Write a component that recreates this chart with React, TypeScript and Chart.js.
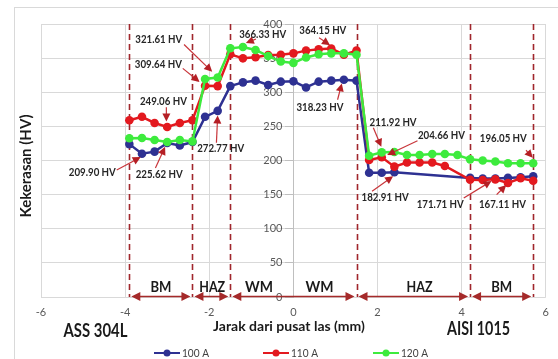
import React, { useEffect, useRef } from 'react';
import { Chart, registerables } from 'chart.js';

Chart.register(...registerables);

// ---- data ----
const seriesNames = ['100 A', '110 A', '120 A'];
const seriesColors = ['#2E3192', '#E3191F', '#3DEB3D'];

const xs100 = [-3.9, -3.6, -3.3, -3.0, -2.7, -2.4, -2.1, -1.8, -1.5, -1.2, -0.9, -0.6, -0.3, 0, 0.3, 0.6, 0.9, 1.2, 1.5, 1.8, 2.1, 2.4, 4.2, 4.5, 4.8, 5.1, 5.4, 5.7];
const hv100 = [224, 209.9, 213, 225.62, 222, 227, 264, 272.77, 309, 314.5, 317, 310.6, 315.5, 316, 307, 315.5, 317, 318.23, 317, 182, 182, 182.91, 174.5, 173.5, 173.5, 174.5, 175.5, 177];

const xs110 = [-3.9, -3.6, -3.3, -3.0, -2.7, -2.4, -2.1, -1.8, -1.5, -1.2, -0.9, -0.6, -0.3, 0, 0.3, 0.6, 0.9, 1.2, 1.5, 1.8, 2.1, 2.4, 2.7, 3.0, 3.3, 3.6, 4.2, 4.5, 4.8, 5.1, 5.4, 5.7];
const hv110 = [259, 264, 255, 249.06, 255, 259, 309.64, 309, 355.6, 349.7, 351.2, 354.6, 355, 357, 361, 363, 364.15, 355, 361, 200.7, 204.66, 191, 197, 197, 197, 192, 171.71, 171.4, 172.4, 167.11, 173.9, 170.4];

const xs120 = [-3.9, -3.6, -3.3, -3.0, -2.7, -2.4, -2.1, -1.8, -1.5, -1.2, -0.9, -0.6, -0.3, 0, 0.3, 0.6, 0.9, 1.2, 1.5, 1.8, 2.1, 2.4, 2.7, 3.0, 3.3, 3.6, 3.9, 4.2, 4.5, 4.8, 5.1, 5.4, 5.7];
const hv120 = [232.5, 233, 230, 227, 230, 228, 319.5, 321.61, 364.4, 366.33, 362, 353, 345, 343, 351, 355.6, 357, 357, 355, 207, 211.92, 212.5, 208, 208, 209.5, 209.5, 208, 201.7, 200, 198.5, 196, 196, 196.05];

const xMin = -6;
const xMax = 6;
const xStep = 2;
const yMin = 0;
const yMax = 400;
const yStep = 50;

const zoneBounds = [-3.9, -2.4, -1.5, 1.5, 4.2, 5.7];
const zoneArrows = [[-3.9, -2.4], [-2.4, -1.5], [-1.5, 1.5], [1.5, 4.2], [4.2, 5.7]];
const zoneLabels = ['BM', 'HAZ', 'WM', 'WM', 'HAZ', 'BM'];
const zoneLabelX = [-3.15, -1.93, -0.82, 0.62, 3.0, 4.95];
const zoneLabelY = 15;

const annText = ['321.61 HV', '309.64 HV', '249.06 HV', '272.77 HV', '209.90 HV', '225.62 HV', '366.33 HV', '364.15 HV', '318.23 HV', '211.92 HV', '204.66 HV', '196.05 HV', '182.91 HV', '171.71 HV', '167.11 HV'];
const annLabelX = [-3.2, -3.21, -3.09, -1.73, -4.78, -3.19, -0.73, 0.7, 0.63, 2.37, 3.52, 4.99, 2.18, 3.49, 4.97];
const annLabelY = [378, 341, 287, 217, 183, 180, 385, 390, 278, 256, 236, 233, 146, 135, 136];
const annTailX = [-2.6, -2.63, -3.02, -1.83, -4.2, -3.28, -0.89, 0.61, 1.05, 1.9, 2.95, 5.53, 1.87, 4.05, 4.83];
const annTailY = [370, 335, 278, 226, 186, 189, 378, 380, 289, 248, 229, 215, 155, 145, 150];
const annHeadX = [-1.93, -2.23, -3.02, -1.8, -3.63, -3.05, -1.13, 0.87, 1.15, 2.09, 2.23, 5.69, 2.37, 4.71, 5.06];
const annHeadY = [330, 315, 257, 266, 205, 220, 372, 369, 313, 220, 208, 204, 177, 170, 164];

const yTitle = 'Kekerasan (HV)';
const xTitle = 'Jarak dari pusat las (mm)';
const leftMaterial = 'ASS 304L';
const rightMaterial = 'AISI 1015';

const FONT = 'Lato, "Open Sans", "DejaVu Sans", sans-serif';

function drawText(ctx: CanvasRenderingContext2D, s: string, x: number, y: number, font: string, color: string, maxW?: number, align: CanvasTextAlign = 'center') {
  ctx.save();
  ctx.font = font;
  ctx.fillStyle = color;
  ctx.textBaseline = 'middle';
  ctx.textAlign = align;
  const w = ctx.measureText(s).width;
  ctx.translate(x, y);
  if (maxW && w > maxW) ctx.scale(maxW / w, 1);
  ctx.fillText(s, 0, 0);
  ctx.restore();
}

function arrowHead(ctx: CanvasRenderingContext2D, x1: number, y1: number, x2: number, y2: number, len: number, half: number) {
  const a = Math.atan2(y2 - y1, x2 - x1);
  const c = Math.cos(a);
  const s = Math.sin(a);
  ctx.beginPath();
  ctx.moveTo(x2, y2);
  ctx.lineTo(x2 - len * c + half * s, y2 - len * s - half * c);
  ctx.lineTo(x2 - len * c - half * s, y2 - len * s + half * c);
  ctx.closePath();
  ctx.fill();
}

const overlay = {
  id: 'overlay',
  beforeDraw(chart: any) {
    const ctx = chart.ctx as CanvasRenderingContext2D;
    ctx.save();
    ctx.strokeStyle = '#D9D9D9';
    ctx.lineWidth = 1;
    ctx.strokeRect(14.5, 7.5, 700, 500);
    ctx.restore();
  },
  beforeDatasetsDraw(chart: any) {
    const ctx = chart.ctx as CanvasRenderingContext2D;
    const xs = chart.scales.x;
    const ys = chart.scales.y;
    // y tick labels, placed left of the y axis at x = 0
    const axisX = xs.getPixelForValue(0);
    ys.ticks.forEach((t: any) => {
      drawText(ctx, String(t.label), axisX - 11, ys.getPixelForValue(t.value), '11px ' + FONT, '#595959', undefined, 'right');
    });
    ctx.save();
    ctx.strokeStyle = '#A0262C';
    ctx.lineWidth = 1.6;
    ctx.setLineDash([6, 4]);
    zoneBounds.forEach((b) => {
      const px = Math.round(xs.getPixelForValue(b)) + 0.5;
      ctx.beginPath();
      ctx.moveTo(px, ys.getPixelForValue(yMax));
      ctx.lineTo(px, ys.getPixelForValue(yMin));
      ctx.stroke();
    });
    ctx.restore();
  },
  afterDatasetsDraw(chart: any) {
    const ctx = chart.ctx as CanvasRenderingContext2D;
    const xs = chart.scales.x;
    const ys = chart.scales.y;
    // zone arrows along the x axis
    ctx.save();
    ctx.strokeStyle = '#A52A2A';
    ctx.fillStyle = '#A52A2A';
    ctx.lineWidth = 1.5;
    const y0 = ys.getPixelForValue(0) - 0.5;
    zoneArrows.forEach(([a, b]) => {
      const pa = xs.getPixelForValue(a) + 2;
      const pb = xs.getPixelForValue(b) - 2;
      ctx.beginPath();
      ctx.moveTo(pa + 4, y0);
      ctx.lineTo(pb - 4, y0);
      ctx.stroke();
      arrowHead(ctx, pb - 20, y0, pb, y0, 9, 4.5);
      arrowHead(ctx, pa + 20, y0, pa, y0, 9, 4.5);
    });
    ctx.restore();
    zoneLabels.forEach((t, i) => {
      drawText(ctx, t, xs.getPixelForValue(zoneLabelX[i]), ys.getPixelForValue(zoneLabelY), 'bold 15px ' + FONT, '#1A1A1A', t === 'BM' ? 21 : t === 'HAZ' ? 26 : 28);
    });
    // annotations
    annText.forEach((t, i) => {
      const tx = xs.getPixelForValue(annTailX[i]);
      const ty = ys.getPixelForValue(annTailY[i]);
      const hx = xs.getPixelForValue(annHeadX[i]);
      const hy = ys.getPixelForValue(annHeadY[i]);
      ctx.save();
      ctx.strokeStyle = '#C8353A';
      ctx.fillStyle = '#B51F25';
      ctx.lineWidth = 1.2;
      const a = Math.atan2(hy - ty, hx - tx);
      ctx.beginPath();
      ctx.moveTo(tx, ty);
      ctx.lineTo(hx - 6 * Math.cos(a), hy - 6 * Math.sin(a));
      ctx.stroke();
      arrowHead(ctx, tx, ty, hx, hy, 8, 4);
      ctx.restore();
      drawText(ctx, t, xs.getPixelForValue(annLabelX[i]), ys.getPixelForValue(annLabelY[i]), 'bold 11px ' + FONT, '#262626', 47);
    });
  },
  afterDraw(chart: any) {
    const ctx = chart.ctx as CanvasRenderingContext2D;
    // y title
    ctx.save();
    ctx.translate(26, 166);
    ctx.rotate(-Math.PI / 2);
    drawText(ctx, yTitle, 0, 0, 'bold 15px ' + FONT, '#1A1A1A', 113);
    ctx.restore();
    drawText(ctx, xTitle, 289, 326, 'bold 14px ' + FONT, '#1A1A1A', 155);
    drawText(ctx, leftMaterial, 95.5, 331, 'bold 18px ' + FONT, '#1A1A1A', 64);
    drawText(ctx, rightMaterial, 478.5, 329, 'bold 18px ' + FONT, '#1A1A1A', 63);
    // legend
    const starts = [154, 263, 373];
    const ly = 353;
    chart.data.datasets.forEach((ds: any, i: number) => {
      const sx = starts[i];
      ctx.save();
      ctx.strokeStyle = ds.borderColor;
      ctx.fillStyle = ds.borderColor;
      ctx.lineWidth = 2;
      ctx.beginPath();
      ctx.moveTo(sx, ly);
      ctx.lineTo(sx + 26, ly);
      ctx.stroke();
      ctx.beginPath();
      ctx.arc(sx + 13, ly, 3.5, 0, Math.PI * 2);
      ctx.fill();
      ctx.restore();
      drawText(ctx, ds.label, sx + 28, ly, '11px ' + FONT, '#404040', 27, 'left');
    });
  },
};

export default function App() {
  const ref = useRef<HTMLCanvasElement | null>(null);
  useEffect(() => {
    document.body.style.margin = '0';
    const canvas = ref.current;
    if (!canvas) return;
    const xsAll = [xs100, xs110, xs120];
    const ysAll = [hv100, hv110, hv120];
    const orders = [2, 1, 0];
    const chart = new Chart(canvas, {
      type: 'line',
      data: {
        datasets: seriesNames.map((name, i) => ({
          label: name,
          data: xsAll[i].map((x, j) => ({ x, y: ysAll[i][j] })),
          borderColor: seriesColors[i],
          backgroundColor: seriesColors[i],
          pointBackgroundColor: seriesColors[i],
          pointBorderWidth: 0,
          pointRadius: 4.3,
          borderWidth: 2.5,
          tension: 0,
          order: orders[i],
        })),
      },
      options: {
        responsive: false,
        animation: false,
        devicePixelRatio: 1,
        layout: { padding: { left: 41, right: 5, top: 24, bottom: 0 } },
        plugins: { legend: { display: false }, tooltip: { enabled: false }, title: { display: false } },
        scales: {
          x: {
            type: 'linear',
            min: xMin,
            max: xMax,
            ticks: { stepSize: xStep, color: '#595959', font: { size: 11, family: FONT }, padding: 9 },
            grid: { color: '#D9D9D9', drawTicks: false },
            border: { display: false },
            afterFit: (s: any) => { s.height = 62; },
          },
          y: {
            type: 'linear',
            position: { x: 0 } as any,
            min: yMin,
            max: yMax,
            ticks: { stepSize: yStep, display: false },
            grid: { color: '#D9D9D9', tickLength: 8, drawTicks: true, tickColor: '#BFBFBF' },
            border: { display: true, color: '#BFBFBF' },
          },
        },
      },
      plugins: [overlay],
    });
    return () => chart.destroy();
  }, []);
  return <canvas ref={ref} width={558} height={359} style={{ display: 'block' }} />;
}
